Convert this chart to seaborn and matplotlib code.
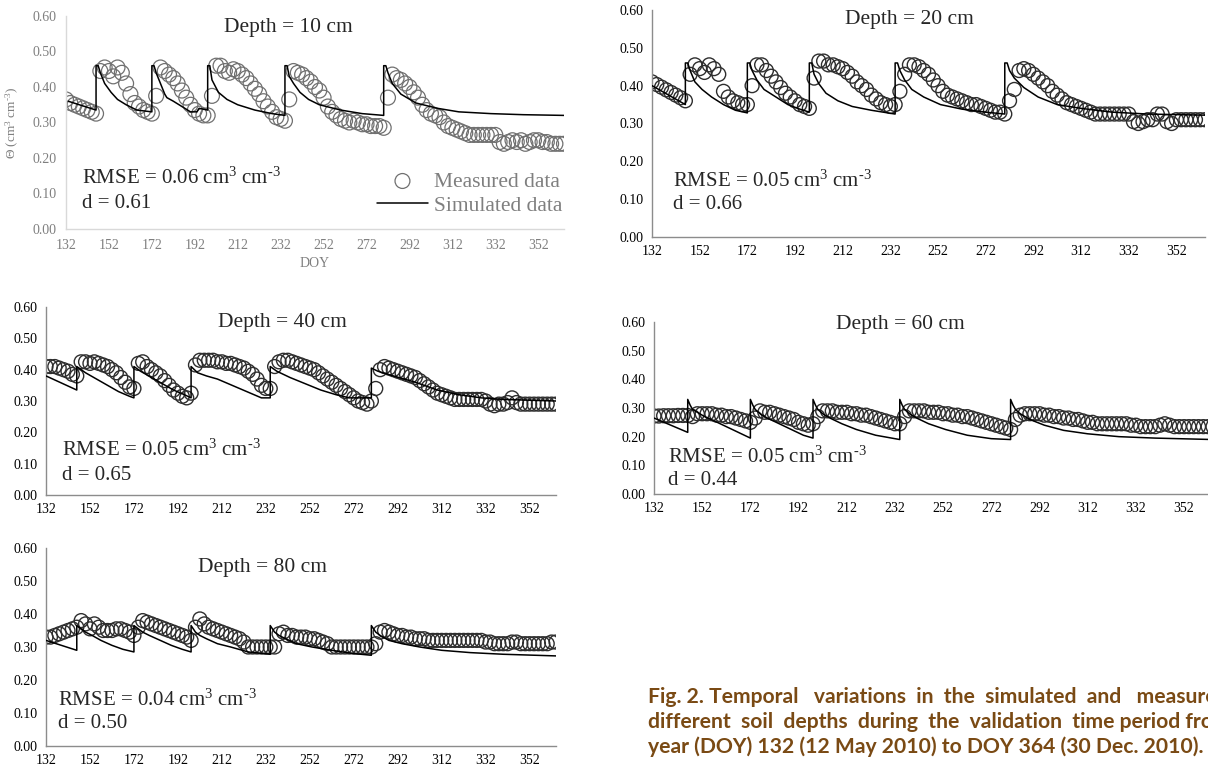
import matplotlib
matplotlib.use("Agg")
import matplotlib.pyplot as plt
import seaborn as sns
from matplotlib.ticker import FormatStrFormatter

# measured days (every second DOY)
DOY = list(range(132, 365, 2))

MEAS_10 = [.365, .355, .35, .345, .34, .335, .33, .325,
           .445, .455, .445, .43, .455, .44, .41, .38, .355, .345, .335, .33, .325,
           .375, .455, .445, .435, .425, .41, .39, .37, .35, .335, .325, .32, .32,
           .375, .46, .46, .445, .44, .45, .445, .435, .425, .41, .395, .38, .36, .345, .33, .315, .31, .305,
           .365, .445, .44, .435, .425, .415, .40, .39, .37, .345, .33, .32, .31, .305, .30, .305, .30, .295,
           .295, .29, .29, .29, .285,
           .37, .435, .425, .42, .41, .40, .385, .37, .35, .335, .325, .32, .315, .30, .29, .285, .28, .275,
           .27, .265, .265, .265, .265, .265, .265, .265,
           .245, .24, .245, .25, .245, .25, .24, .245, .25, .25, .245, .245, .24, .24, .24, .24]

MEAS_20 = [.41, .403, .396, .389, .382, .375, .368, .36,
           .43, .455, .445, .435, .455, .445, .43, .385, .37, .36, .355, .35, .35,
           .40, .455, .455, .44, .425, .41, .395, .38, .37, .36, .35, .345, .34,
           .42, .465, .465, .455, .455, .45, .445, .435, .425, .41, .40, .39, .375, .365, .355, .35, .345, .35,
           .385, .43, .455, .455, .45, .44, .43, .415, .40, .385, .375, .37, .365, .36, .355, .35, .35, .345,
           .34, .335, .33, .33, .325,
           .36, .39, .44, .445, .44, .43, .42, .41, .40, .385, .375, .365, .355, .35, .345, .34, .335, .33,
           .325, .325, .325, .325, .325, .325, .325, .325,
           .305, .30, .305, .31, .31, .325, .325, .305, .30, .31, .31, .31, .31, .31, .31, .31]

MEAS_40 = [.41, .41, .41, .405, .40, .395, .385, .38,
           .425, .425, .42, .425, .42, .415, .41, .40, .39, .375, .36, .345, .34,
           .42, .425, .41, .40, .39, .38, .365, .35, .335, .325, .315, .31, .325,
           .415, .43, .43, .43, .43, .425, .425, .42, .42, .415, .41, .405, .395, .385, .37, .35, .34, .34,
           .41, .425, .43, .43, .425, .42, .415, .41, .405, .40, .39, .38, .37, .36, .35, .34, .33, .32,
           .31, .30, .295, .29, .30,
           .34, .40, .41, .405, .40, .395, .39, .385, .38, .375, .365, .355, .345, .335, .325, .32, .315, .31,
           .305, .305, .305, .305, .305, .305, .305, .30,
           .29, .285, .29, .29, .295, .31, .295, .29, .29, .29, .29, .29, .29, .29, .29, .29]

MEAS_60 = [.272, .272, .273, .273, .273, .274, .274, .274,
           .27, .28, .28, .28, .28, .275, .275, .27, .27, .265, .26, .255, .25,
           .265, .29, .285, .285, .28, .275, .27, .265, .26, .25, .245, .24, .245,
           .27, .29, .29, .29, .285, .285, .285, .28, .28, .275, .275, .27, .265, .26, .255, .25, .245, .245,
           .27, .29, .29, .29, .29, .285, .285, .285, .28, .28, .275, .275, .27, .27, .265, .26, .255, .25,
           .245, .24, .235, .23, .225,
           .26, .275, .28, .28, .28, .28, .275, .275, .27, .27, .265, .265, .26, .26, .255, .25, .25, .245,
           .245, .245, .245, .245, .245, .245, .24, .24,
           .235, .235, .235, .235, .24, .245, .24, .235, .235, .235, .235, .235, .235, .235, .235, .235]

MEAS_80 = [.33, .33, .335, .34, .345, .35, .355, .36,
           .38, .37, .355, .37, .36, .35, .35, .35, .355, .355, .35, .345, .335,
           .36, .38, .375, .37, .365, .36, .355, .35, .345, .34, .335, .33, .32,
           .36, .385, .37, .36, .355, .35, .345, .34, .335, .33, .325, .315, .30, .30, .30, .30, .30, .30,
           .30, .34, .345, .335, .335, .33, .33, .33, .325, .325, .32, .315, .31, .30, .30, .30, .30, .30,
           .30, .30, .30, .30, .30,
           .31, .345, .35, .345, .34, .335, .335, .33, .33, .325, .325, .325, .32, .32, .32, .32, .32, .32,
           .32, .32, .32, .32, .32, .32, .32, .315,
           .315, .31, .31, .31, .31, .315, .315, .31, .31, .31, .31, .31, .31, .31, .315, .315]

# simulated series (jump days appear twice)
SIM_10_DOY = [133, 146, 146, 147, 148, 150, 153, 156, 160, 165,
              172, 172, 173, 174, 176, 178, 179, 182, 186, 190,
              193, 194, 198, 198, 199, 200, 203, 207, 212, 220,
              228, 234, 234, 235, 236, 238, 241, 245, 250, 260,
              270, 280, 280, 281, 282, 284, 288, 295, 305, 315,
              330, 345, 364]
SIM_10 = [.36, .335, .46, .46, .44, .41, .385, .365, .35, .335,
          .33, .46, .46, .44, .41, .38, .37, .36, .345, .33,
          .33, .34, .335, .46, .46, .42, .385, .365, .35, .335,
          .325, .32, .46, .46, .43, .41, .385, .365, .35, .335,
          .325, .32, .46, .46, .44, .41, .38, .355, .34, .33,
          .325, .322, .32]

SIM_DOY = [132, 146, 146, 147, 148, 150, 153, 157, 162, 167, 172,
           172, 173, 174, 176, 179, 184, 189, 194, 198,
           198, 199, 200, 202, 205, 210, 216, 224, 234,
           234, 235, 236, 238, 241, 246, 253, 262, 272, 280,
           280, 281, 282, 284, 288, 294, 302, 312, 325, 340, 364]
SIM_20 = [.40, .35, .46, .46, .44, .41, .39, .37, .35, .335, .328,
          .46, .46, .44, .415, .39, .37, .35, .338, .33,
          .46, .46, .43, .405, .38, .36, .345, .335, .325,
          .46, .46, .44, .415, .39, .37, .35, .338, .33, .325,
          .46, .46, .44, .42, .395, .37, .35, .34, .33, .325, .322]
SIM_60 = [.265, .215, .33, .31, .295, .285, .27, .255, .235, .215, .195,
          .33, .31, .295, .28, .265, .245, .225, .205, .195,
          .33, .31, .295, .28, .265, .245, .225, .205, .19,
          .33, .31, .295, .28, .265, .245, .225, .205, .193, .19,
          .33, .31, .295, .28, .26, .24, .222, .21, .20, .195, .19]
SIM_80 = [.32, .29, .365, .36, .355, .345, .335, .32, .305, .293, .285,
          .365, .36, .355, .345, .335, .32, .305, .293, .285,
          .365, .355, .345, .335, .325, .31, .30, .285, .278,
          .365, .355, .345, .335, .325, .31, .30, .29, .28, .275,
          .365, .355, .345, .335, .32, .31, .30, .29, .283, .278, .273]

SIM_40_DOY = [132, 146, 146, 150, 155, 160, 165, 170, 172, 172,
              175, 180, 185, 190, 195, 198, 198, 201, 205, 210,
              215, 220, 225, 230, 234, 234, 237, 243, 250, 257,
              264, 270, 280, 280, 283, 290, 300, 310, 320, 330,
              340, 364]
SIM_40 = [.38, .335, .41, .39, .37, .35, .33, .315, .31, .41,
          .395, .375, .355, .335, .32, .31, .41, .39, .38, .37,
          .355, .34, .325, .31, .31, .41, .395, .375, .355, .335,
          .32, .31, .31, .405, .395, .38, .36, .335, .32, .31,
          .305, .30]

XTICKS = list(range(132, 353, 20))
YTICKS = [0.0, 0.1, 0.2, 0.3, 0.4, 0.5, 0.6]
UNIT = r"cm$^{3}$ cm$^{\text{-}3}$"

sns.set_style("white")
plt.rcParams["font.family"] = ["Liberation Serif", "DejaVu Serif"]
plt.rcParams["mathtext.fontset"] = "custom"
plt.rcParams["mathtext.rm"] = "Liberation Serif"
plt.rcParams["mathtext.it"] = "Liberation Serif:italic"

W, H = 1208, 769
fig = plt.figure(figsize=(W / 100, H / 100), dpi=100)


def add_ax(left, top, right, bottom):
    return fig.add_axes([left / W, 1 - bottom / H, (right - left) / W, (bottom - top) / H])


def draw_panel(ax, meas, sim_doy, sim, title, rmse, d, pos, light=False):
    tcol = "#7f7f7f" if light else "black"
    mcol = "#707070" if light else "#2e2e2e"
    sns.lineplot(x=sim_doy, y=sim, ax=ax, color="black", linewidth=1.1,
                 estimator=None, sort=False, label="Simulated data", zorder=3)
    sns.scatterplot(x=DOY, y=meas, ax=ax, marker="o", s=115 if light else 100,
                    facecolors="none", edgecolors=mcol, linewidth=0.9 if light else 1.0,
                    label="Measured data", zorder=2)
    ax.set_xlim(132, 364)
    ax.set_ylim(0, 0.6)
    ax.set_xticks(XTICKS)
    ax.set_yticks(YTICKS)
    ax.yaxis.set_major_formatter(FormatStrFormatter("%.2f"))
    for side in ["top", "right"]:
        ax.spines[side].set_visible(False)
    scol = "#d9d9d9" if light else "#8c8c8c"
    for side in ["left", "bottom"]:
        ax.spines[side].set_color(scol)
        ax.spines[side].set_linewidth(1.0)
    ax.tick_params(axis="both", labelsize=10, colors=tcol, length=0 if light else 3,
                   width=0.8, pad=7 if light else 3)
    ax.tick_params(axis="both", color=scol)
    tx, ty, rx, ry, dy = pos
    ax.text(tx, ty, title, transform=ax.transAxes, ha="center", va="center", fontsize=15.5)
    ax.text(rx, ry, rmse, transform=ax.transAxes, ha="left", va="center", fontsize=15)
    ax.text(rx, dy, d, transform=ax.transAxes, ha="left", va="center", fontsize=15)
    if ax.get_legend() is not None:
        ax.get_legend().remove()


ax1 = add_ax(66, 16, 564, 229)
ax2 = add_ax(652, 10, 1205, 237)
ax3 = add_ax(46, 307, 556, 495)
ax4 = add_ax(654, 322, 1213, 494)
ax5 = add_ax(46, 548, 556, 746)

draw_panel(ax1, MEAS_10, SIM_10_DOY, SIM_10, "Depth = 10 cm",
           "RMSE = 0.06 " + UNIT, "d = 0.61",
           (0.446, 0.945, 0.032, 0.24, 0.122), light=True)
draw_panel(ax2, MEAS_20, SIM_DOY, SIM_20, "Depth = 20 cm",
           "RMSE = 0.05 " + UNIT, "d = 0.66",
           (0.465, 0.96, 0.038, 0.247, 0.141))
draw_panel(ax3, MEAS_40, SIM_40_DOY, SIM_40, "Depth = 40 cm",
           "RMSE = 0.05 " + UNIT, "d = 0.65",
           (0.463, 0.92, 0.031, 0.24, 0.106))
draw_panel(ax4, MEAS_60, SIM_DOY, SIM_60, "Depth = 60 cm",
           "RMSE = 0.05 " + UNIT, "d = 0.44",
           (0.44, 0.985, 0.025, 0.215, 0.08))
draw_panel(ax5, MEAS_80, SIM_DOY, SIM_80, "Depth = 80 cm",
           "RMSE = 0.04 " + UNIT, "d = 0.50",
           (0.425, 0.904, 0.024, 0.232, 0.116))

# first panel: axis labels and legend
ax1.set_xlabel("DOY", fontsize=10, color="#7f7f7f", labelpad=4)
ax1.set_ylabel(r"$\Theta$ (" + UNIT + ")", fontsize=9.5, color="#7f7f7f", labelpad=8)
handles, labels = ax1.get_legend_handles_labels()
order = [labels.index("Measured data"), labels.index("Simulated data")]
leg = ax1.legend([handles[i] for i in order], [labels[i] for i in order],
                 loc="lower right", bbox_to_anchor=(1.035, -0.03), frameon=False,
                 fontsize=15.5, handlelength=2.4, handletextpad=0.25,
                 labelspacing=0.2, labelcolor="#7f7f7f")

# caption block, cropped at the right edge as in the source page
caption = ["Fig. 2. Temporal   variations  in  the  simulated  and   measured",
           "different  soil  depths  during  the  validation  time period from",
           "year (DOY) 132 (12 May 2010) to DOY 364 (30 Dec. 2010)."]
for i, line in enumerate(caption):
    fig.text(648 / W, 1 - (697 + 25 * i) / H, line, ha="left", va="center",
             fontsize=15.2, fontweight="bold", color="#7a4a14", family=["Lato", "DejaVu Sans"])

fig.savefig("out.png", dpi=100)
